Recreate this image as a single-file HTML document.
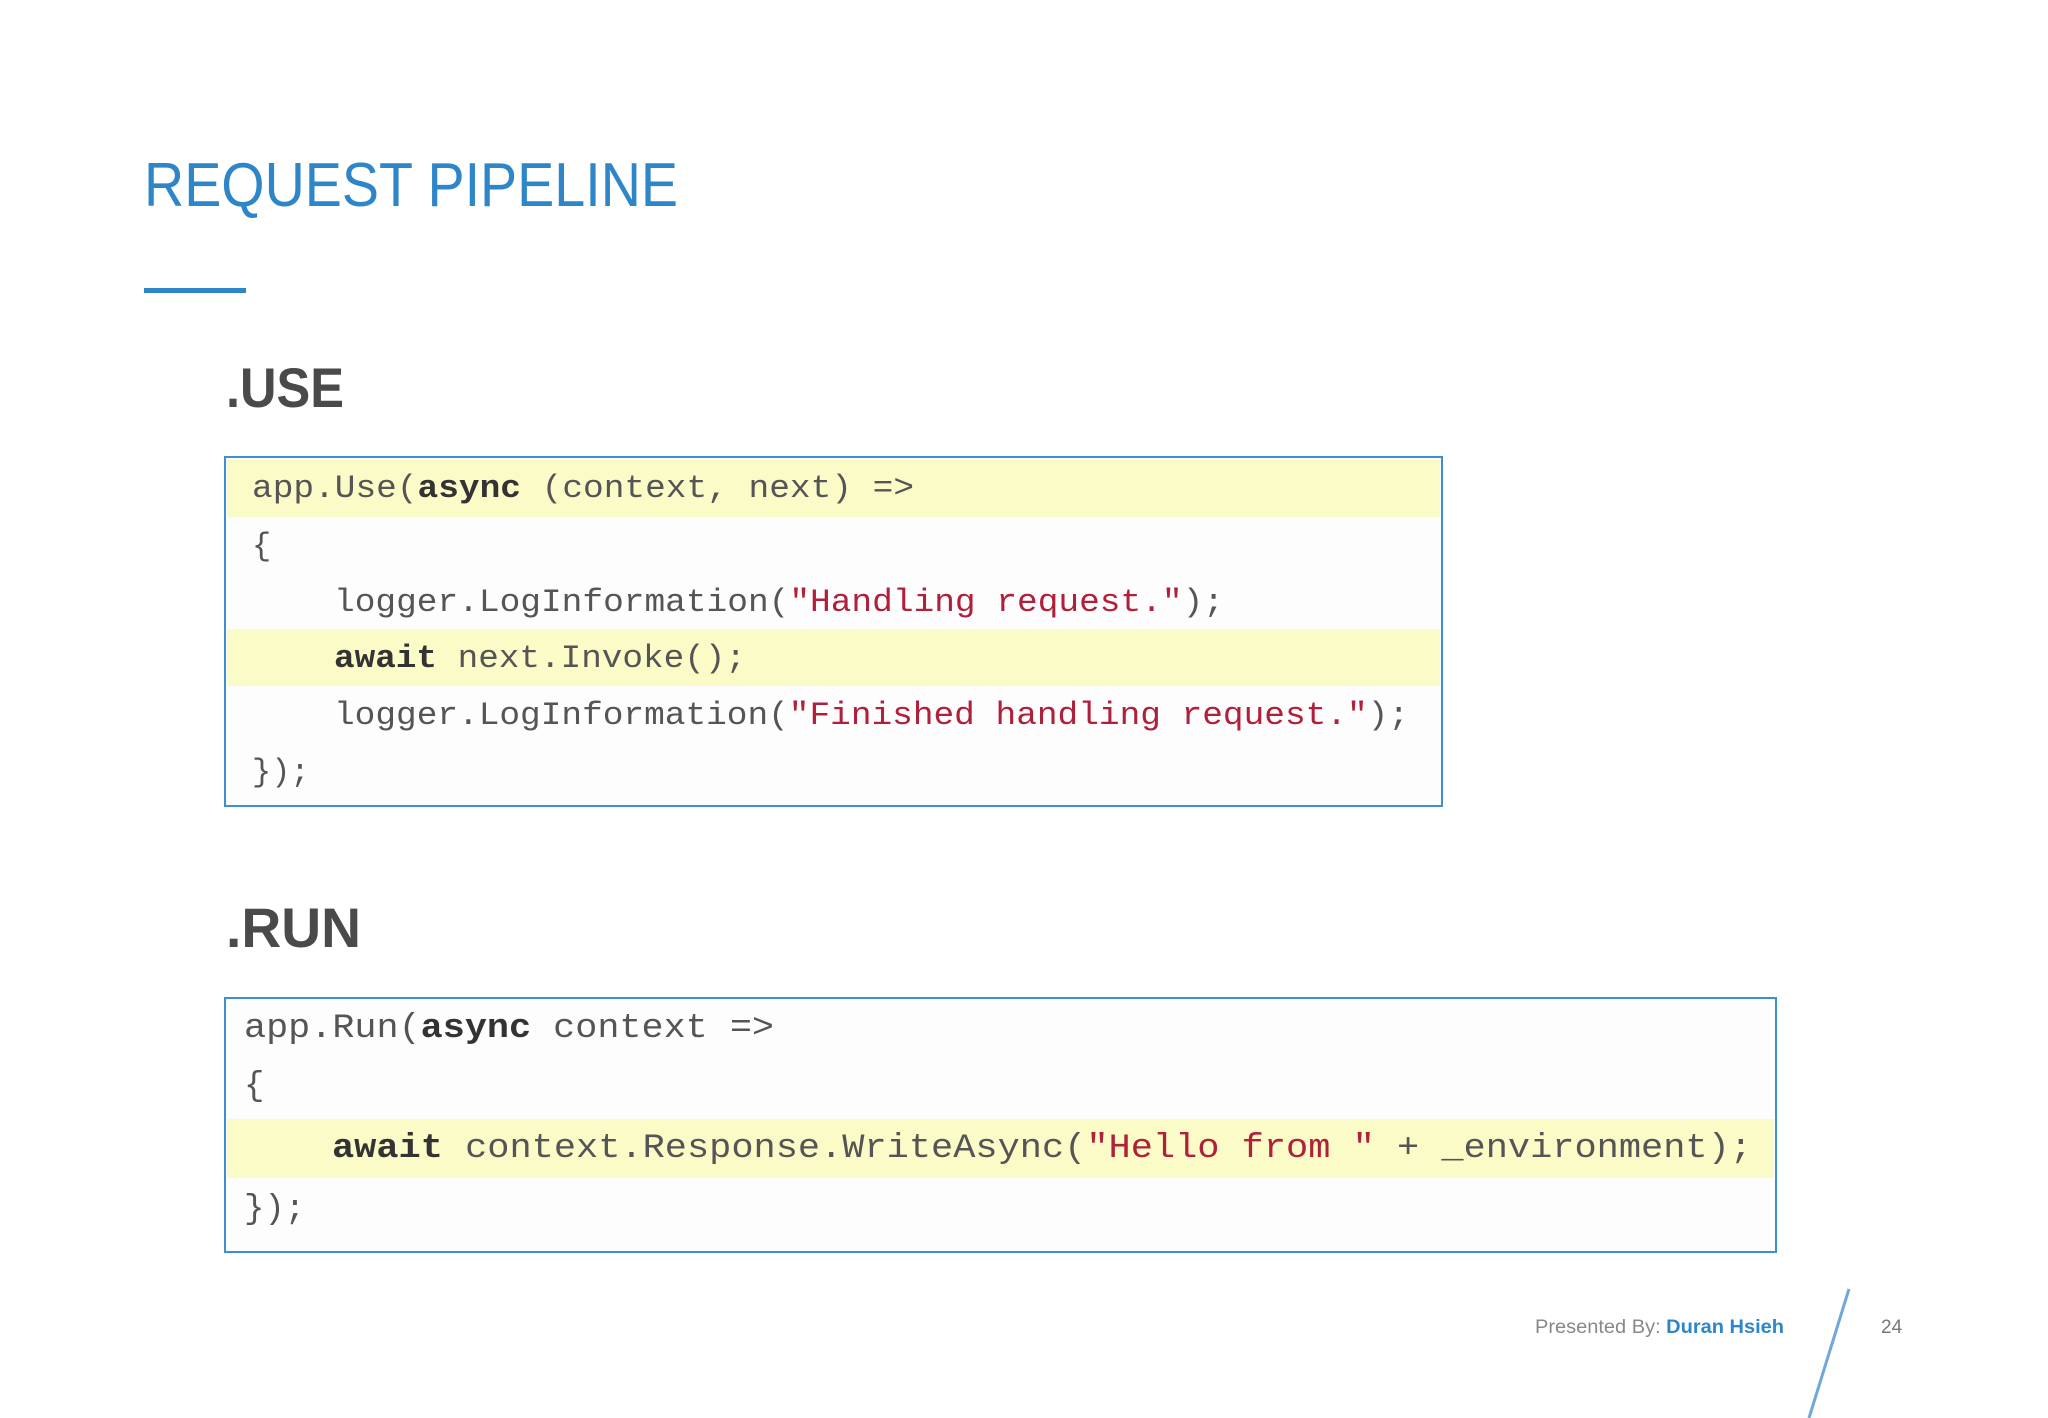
<!DOCTYPE html>
<html><head><meta charset="utf-8"><style>
html,body{margin:0;padding:0;background:#fff;}
svg{display:block;}
</style></head><body>
<svg width="2048" height="1418" viewBox="0 0 2048 1418" xmlns="http://www.w3.org/2000/svg">
<rect width="2048" height="1418" fill="#fff"/>
<text x="144" y="206" font-family="Liberation Sans, sans-serif" font-size="62" fill="#2e86c9" textLength="534" lengthAdjust="spacingAndGlyphs">REQUEST PIPELINE</text>
<rect x="144" y="288" width="102" height="5" fill="#2e86c9"/>
<text x="226" y="407" font-family="Liberation Sans, sans-serif" font-size="56" font-weight="bold" fill="#4a4a4a" textLength="118" lengthAdjust="spacingAndGlyphs">.USE</text>
<text x="226" y="947" font-family="Liberation Sans, sans-serif" font-size="56" font-weight="bold" fill="#4a4a4a" textLength="135" lengthAdjust="spacingAndGlyphs">.RUN</text>

<rect x="225" y="457" width="1217" height="349" fill="#fdfdfd" stroke="#3d8fd0" stroke-width="2"/>
<rect x="227" y="460" width="1213" height="57" fill="#fbfbc8"/>
<rect x="227" y="629" width="1213" height="57" fill="#fbfbc8"/>
<g font-family="Liberation Mono, monospace" font-size="32" fill="#555">
<text x="252" y="497" textLength="662" lengthAdjust="spacingAndGlyphs">app.Use(<tspan font-weight="bold" fill="#333">async</tspan> (context, next) =&gt;</text>
<text x="252" y="555">{</text>
<text x="334" y="611" textLength="890" lengthAdjust="spacingAndGlyphs">logger.LogInformation(<tspan fill="#b0203a">"Handling request."</tspan>);</text>
<text x="334" y="667" textLength="412" lengthAdjust="spacingAndGlyphs"><tspan font-weight="bold" fill="#333">await</tspan> next.Invoke();</text>
<text x="334" y="724" textLength="1075" lengthAdjust="spacingAndGlyphs">logger.LogInformation(<tspan fill="#b0203a">"Finished handling request."</tspan>);</text>
<text x="252" y="781">});</text>
</g>

<rect x="225" y="998" width="1551" height="254" fill="#fdfdfd" stroke="#3d8fd0" stroke-width="2"/>
<rect x="227" y="1119" width="1547" height="59" fill="#fbfbc8"/>
<g font-family="Liberation Mono, monospace" font-size="34" fill="#555">
<text x="244" y="1037" textLength="530" lengthAdjust="spacingAndGlyphs">app.Run(<tspan font-weight="bold" fill="#333">async</tspan> context =&gt;</text>
<text x="244" y="1095">{</text>
<text x="332" y="1157" textLength="1420" lengthAdjust="spacingAndGlyphs"><tspan font-weight="bold" fill="#333">await</tspan> context.Response.WriteAsync(<tspan fill="#b0203a">"Hello from "</tspan> + _environment);</text>
<text x="244" y="1218">});</text>
</g>

<text x="1535" y="1333" font-family="Liberation Sans, sans-serif" font-size="19" fill="#888" textLength="249" lengthAdjust="spacingAndGlyphs">Presented By: <tspan fill="#2e86c9" font-weight="bold">Duran Hsieh</tspan></text>
<text x="1881" y="1333" font-family="Liberation Sans, sans-serif" font-size="19" fill="#777">24</text>
<line x1="1849" y1="1289" x2="1809" y2="1418" stroke="#6fa8dc" stroke-width="3"/>
</svg>
</body></html>
